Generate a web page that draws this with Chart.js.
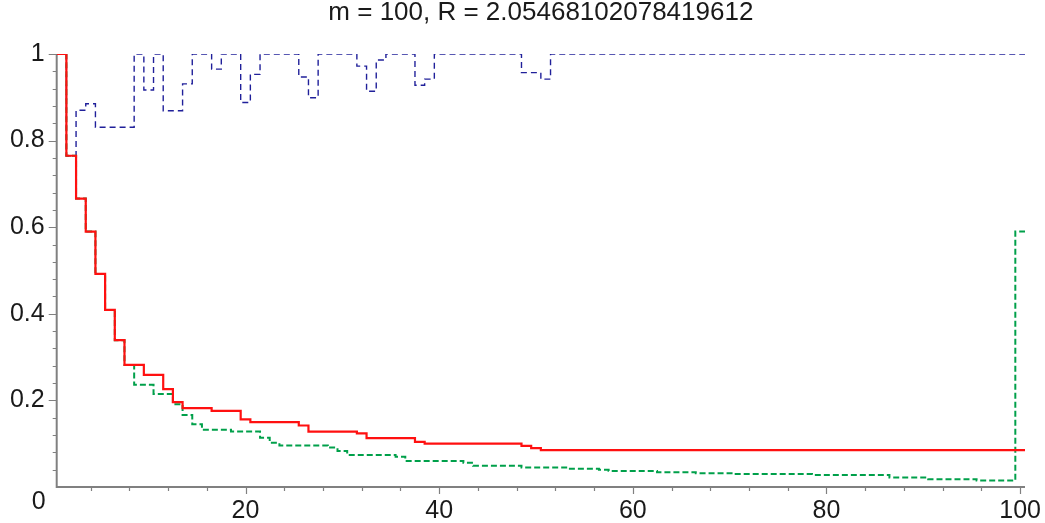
<!DOCTYPE html>
<html>
<head>
<meta charset="utf-8">
<script src="https://cdn.jsdelivr.net/npm/chart.js@4.4.0/dist/chart.umd.min.js"></script>
<style>
    body { margin: 0; background: #fff; }
    #wrap { width: 1045px; height: 523px; position: relative; }
</style>
</head>
<body>
<div id="wrap"><canvas id="step-chart"></canvas></div>
<script>
// values, one per k = 1..100
const redValues = [
    1, 0.765, 0.666, 0.590, 0.492, 0.409, 0.339, 0.282, 0.282, 0.259,
    0.259, 0.226, 0.196, 0.182, 0.182, 0.182, 0.176, 0.176, 0.176, 0.156,
    0.150, 0.150, 0.150, 0.150, 0.150, 0.142, 0.128, 0.128, 0.128, 0.128,
    0.128, 0.124, 0.113, 0.113, 0.113, 0.113, 0.113, 0.104, 0.100, 0.100,
    0.100, 0.100, 0.100, 0.100, 0.100, 0.100, 0.100, 0.100, 0.095, 0.090,
    0.085, 0.085, 0.085, 0.085, 0.085, 0.085, 0.085, 0.085, 0.085, 0.085,
    0.085, 0.085, 0.085, 0.085, 0.085, 0.085, 0.085, 0.085, 0.085, 0.085,
    0.085, 0.085, 0.085, 0.085, 0.085, 0.085, 0.085, 0.085, 0.085, 0.085,
    0.085, 0.085, 0.085, 0.085, 0.085, 0.085, 0.085, 0.085, 0.085, 0.085,
    0.085, 0.085, 0.085, 0.085, 0.085, 0.085, 0.085, 0.085, 0.085, 0.085
];
const greenValues = [
    1, 0.765, 0.666, 0.590, 0.492, 0.409, 0.339, 0.282, 0.236, 0.236,
    0.215, 0.215, 0.191, 0.166, 0.145, 0.132, 0.132, 0.132, 0.128, 0.128,
    0.128, 0.114, 0.102, 0.096, 0.096, 0.096, 0.096, 0.096, 0.091, 0.083,
    0.074, 0.074, 0.074, 0.074, 0.074, 0.070, 0.060, 0.060, 0.060, 0.060,
    0.060, 0.060, 0.056, 0.049, 0.049, 0.049, 0.049, 0.049, 0.045, 0.045,
    0.045, 0.045, 0.045, 0.042, 0.042, 0.042, 0.040, 0.037, 0.037, 0.037,
    0.037, 0.037, 0.034, 0.034, 0.034, 0.034, 0.032, 0.032, 0.032, 0.032,
    0.030, 0.030, 0.030, 0.030, 0.030, 0.030, 0.030, 0.030, 0.028, 0.028,
    0.028, 0.028, 0.028, 0.028, 0.028, 0.028, 0.022, 0.022, 0.022, 0.022,
    0.018, 0.018, 0.018, 0.018, 0.018, 0.015, 0.015, 0.015, 0.015, 0.59
];
const blueValues = [
    1, 0.765, 0.870, 0.885, 0.831, 0.831, 0.831, 0.831, 1, 0.917,
    1, 0.869, 0.869, 0.931, 1, 1, 0.965, 1, 1, 0.888,
    0.953, 1, 1, 1, 1, 0.947, 0.899, 1, 1, 1,
    1, 0.972, 0.914, 0.986, 1, 1, 1, 0.928, 0.942, 1,
    1, 1, 1, 1, 1, 1, 1, 1, 0.957, 0.957,
    0.942, 1, 1, 1, 1, 1, 1, 1, 1, 1,
    1, 1, 1, 1, 1, 1, 1, 1, 1, 1,
    1, 1, 1, 1, 1, 1, 1, 1, 1, 1,
    1, 1, 1, 1, 1, 1, 1, 1, 1, 1,
    1, 1, 1, 1, 1, 1, 1, 1, 1, 1
];
const xTickValues = [20, 40, 60, 80, 100];
const yTickValues = [0, 0.2, 0.4, 0.6, 0.8, 1];
const yTickLabels = ["0", "0.2", "0.4", "0.6", "0.8", "1"];
const titleText = "m = 100, R = 2.05468102078419612";

const FONT = "'Liberation Sans', Arial, sans-serif";

// each value k covers k-0.5 .. k+0.5, so start the step half a unit early
function toSteps(values) {
    const points = values.map((v, i) => ({ x: i + 0.5, y: v }));
    points.push({ x: values.length + 0.5, y: values[values.length - 1] });
    return points;
}

const axesPlugin = {
    id: "mapleAxes",
    beforeDatasetsDraw(chart) {
        const ctx = chart.ctx;
        const xs = chart.scales.x;
        const ys = chart.scales.y;
        const x0 = xs.getPixelForValue(0.5);
        const x1 = xs.getPixelForValue(100.5);
        const y0 = ys.getPixelForValue(0);
        const y1 = ys.getPixelForValue(1);
        ctx.save();
        ctx.strokeStyle = "#808080";
        ctx.lineWidth = 2;
        ctx.beginPath();
        ctx.moveTo(x0, y1);
        ctx.lineTo(x0, y0);
        ctx.lineTo(x1, y0);
        ctx.stroke();
        ctx.lineWidth = 1.2;
        ctx.beginPath();
        for (let v = 4; v <= 100; v += 4) {
            const px = Math.round(xs.getPixelForValue(v)) + 0.5;
            const len = v % 20 === 0 ? 7 : 4;
            ctx.moveTo(px, y0);
            ctx.lineTo(px, y0 + len);
        }
        for (let i = 1; i <= 25; i++) {
            const v = i * 0.04;
            const py = Math.round(ys.getPixelForValue(v)) + 0.5;
            const len = i % 5 === 0 ? 8 : 4;
            ctx.moveTo(x0, py);
            ctx.lineTo(x0 - len, py);
        }
        ctx.stroke();
        ctx.restore();
    },
    afterDraw(chart) {
        // Maple puts the zero label below the corner
        const ctx = chart.ctx;
        const xs = chart.scales.x;
        const ys = chart.scales.y;
        ctx.save();
        ctx.font = "25px " + FONT;
        ctx.fillStyle = "#1a1a1a";
        ctx.textAlign = "right";
        ctx.textBaseline = "middle";
        ctx.fillText(yTickLabels[0], xs.getPixelForValue(0.5) - 11, ys.getPixelForValue(0) + 15);
        ctx.restore();
    }
};

const ctx = document.querySelector("#step-chart");
const data = {
    datasets: [{
        label: "red",
        data: toSteps(redValues),
        borderColor: "#ff1010",
        borderWidth: 2.2,
        stepped: "before",
        pointRadius: 0
    }, {
        label: "green",
        data: toSteps(greenValues),
        borderColor: "#00a04a",
        borderWidth: 2,
        borderDash: [6, 3],
        stepped: "before",
        pointRadius: 0
    }, {
        label: "blue",
        data: toSteps(blueValues),
        borderColor: "#20209a",
        borderWidth: 1.4,
        borderDash: [6, 4],
        stepped: "before",
        pointRadius: 0
    }]
};
const options = {
    responsive: true,
    maintainAspectRatio: false,
    animation: false,
    layout: { padding: { left: 0, right: 20, top: 0, bottom: 0 } },
    plugins: {
        legend: { display: false },
        tooltip: { enabled: false },
        title: {
            display: true,
            fullSize: false,
            text: titleText,
            color: "#1a1a1a",
            font: { family: FONT, size: 26, weight: "normal", lineHeight: 1 },
            padding: { top: 0, bottom: 28 }
        }
    },
    scales: {
        x: {
            type: "linear",
            min: 0.5,
            max: 100.5,
            afterBuildTicks: (scale) => { scale.ticks = xTickValues.map(v => ({ value: v })); },
            afterFit: (scale) => {
                scale.height = 36;
                scale.paddingLeft = 0;
                scale.paddingRight = 0;
            },
            grid: { display: false, drawTicks: false },
            border: { display: false },
            ticks: {
                padding: 9,
                color: "#1a1a1a",
                font: { family: FONT, size: 25 },
                maxRotation: 0,
                callback: (v) => String(v)
            }
        },
        y: {
            type: "linear",
            min: 0,
            max: 1,
            afterBuildTicks: (scale) => { scale.ticks = yTickValues.map(v => ({ value: v })); },
            afterFit: (scale) => { scale.width = 56.7; },
            grid: { display: false, drawTicks: false },
            border: { display: false },
            ticks: {
                padding: 12,
                color: "#1a1a1a",
                font: { family: FONT, size: 25 },
                callback: (v, i) => i === 0 ? "" : yTickLabels[i]
            }
        }
    }
};
new Chart(ctx, { type: "line", data: data, options: options, plugins: [axesPlugin] });
</script>
</body>
</html>
